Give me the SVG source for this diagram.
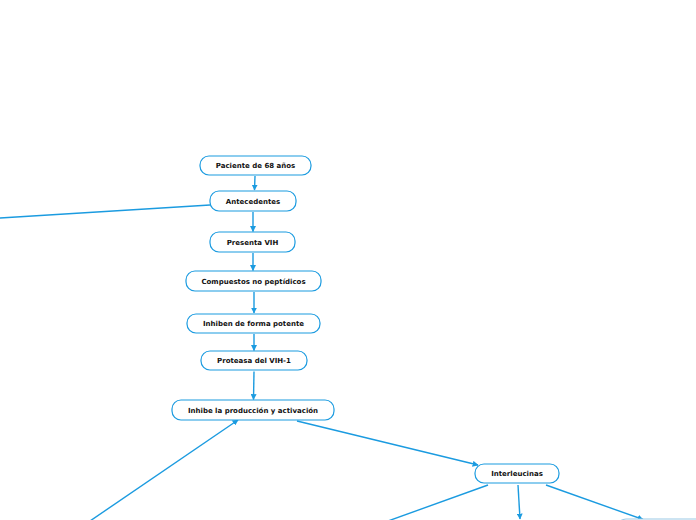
<svg xmlns="http://www.w3.org/2000/svg" width="696" height="520" viewBox="0 0 696 520">
<defs>
<style>
.n rect{fill:#fff;stroke:#1b9be0;stroke-width:1.2}
.n text{font-family:"DejaVu Sans","Verdana",sans-serif;font-weight:bold;font-size:7px;fill:#111;text-anchor:middle}
.c line{stroke:#1b9be0;stroke-width:1.4;fill:none}
.c .a{marker-end:url(#ah)}
</style>
<marker id="ah" viewBox="0 0 10 10" refX="9" refY="5" markerWidth="6" markerHeight="6" markerUnits="userSpaceOnUse" orient="auto">
<path d="M0,0 L10,5 L0,10 z" fill="#1b9be0"/>
</marker>
</defs>
<rect width="696" height="520" fill="#fff"/>
<g class="c" id="connectors">
<line class="a" x1="255" y1="176" x2="254.5" y2="190"/>
<line x1="210" y1="205" x2="0" y2="218"/>
<line class="a" x1="253" y1="212" x2="253" y2="231.5"/>
<line class="a" x1="253" y1="253" x2="253" y2="270.5"/>
<line class="a" x1="254" y1="292" x2="254" y2="313"/>
<line class="a" x1="254" y1="334" x2="254" y2="350.5"/>
<line class="a" x1="254" y1="371.5" x2="253.5" y2="399.5"/>
<line class="a" x1="297" y1="421" x2="478" y2="465"/>
<line class="a" x1="90" y1="521" x2="238" y2="420"/>
<line x1="488" y1="485" x2="388" y2="521"/>
<line class="a" x1="518" y1="485" x2="520" y2="519"/>
<line class="a" x1="546" y1="485" x2="643" y2="519.5"/>
</g>
<g class="n" id="n1"><rect x="200" y="156" width="111" height="19" rx="9"/><text x="255.5" y="167.5">Paciente de 68 años</text></g>
<g class="n" id="n2"><rect x="210" y="191" width="86" height="20" rx="9"/><text x="253" y="204">Antecedentes</text></g>
<g class="n" id="n3"><rect x="210" y="232" width="85" height="20" rx="9"/><text x="252.5" y="245">Presenta VIH</text></g>
<g class="n" id="n4"><rect x="186" y="271" width="135" height="20" rx="9"/><text x="253.5" y="284">Compuestos no peptídicos</text></g>
<g class="n" id="n5"><rect x="187" y="314" width="133" height="19" rx="9"/><text x="253.5" y="326">Inhiben de forma potente</text></g>
<g class="n" id="n6"><rect x="201" y="351" width="106" height="19" rx="9"/><text x="254" y="363">Proteasa del VIH-1</text></g>
<g class="n" id="n7"><rect x="172" y="400" width="162" height="20" rx="9"/><text x="253" y="413">Inhibe la producción y activación</text></g>
<g class="n" id="n8"><rect x="475" y="464" width="84" height="19" rx="9"/><text x="517" y="476">Interleucinas</text></g>
<g class="n" id="n9"><rect x="617" y="519" width="100" height="20" rx="9" style="stroke:#9cc9e6"/></g>
</svg>
